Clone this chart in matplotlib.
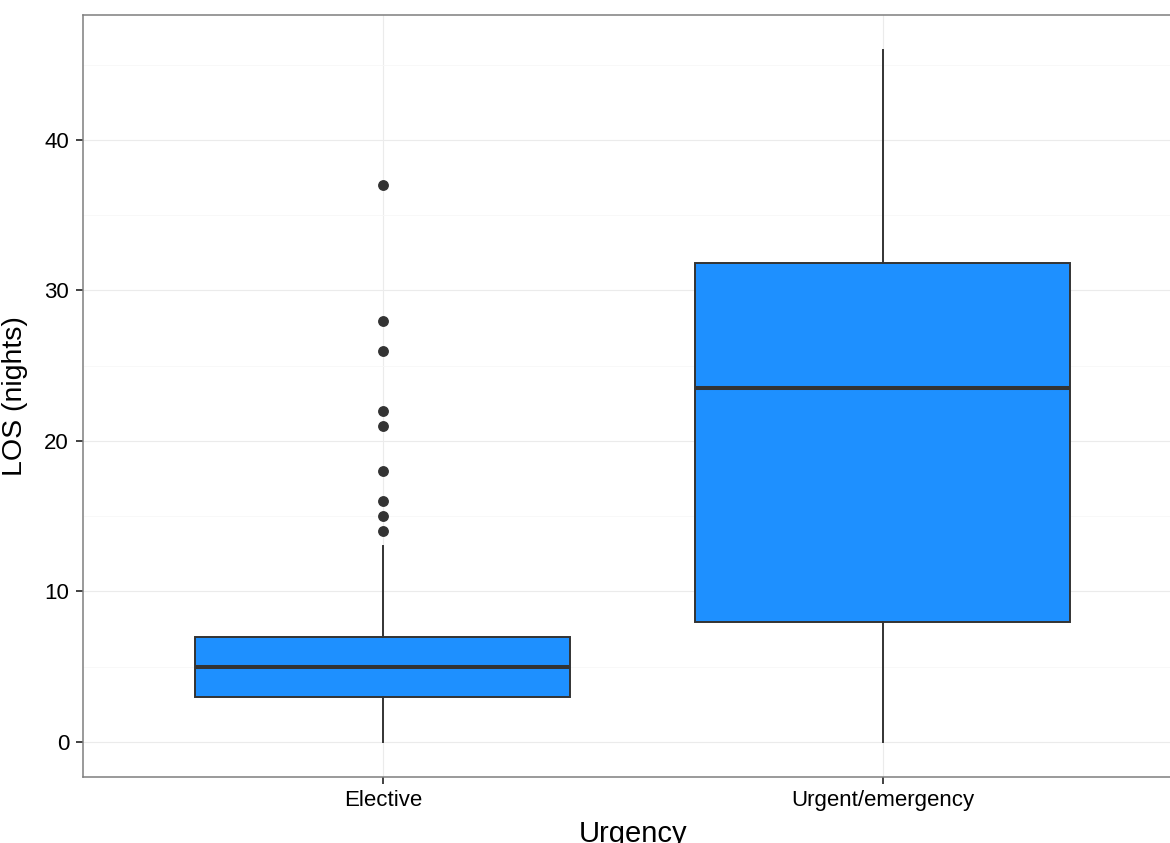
import matplotlib
matplotlib.use("Agg")
import matplotlib.pyplot as plt
from matplotlib.ticker import MultipleLocator

plt.rcParams['font.family'] = ['Liberation Sans', 'DejaVu Sans']

categories = ["Elective", "Urgent/emergency"]
q1 = [3, 8]
medians = [5, 23.5]
q3 = [7, 31.8]
whisker_low = [0, 0]
whisker_high = [13, 46]
outliers = [[14, 15, 16, 18, 21, 22, 26, 28, 37], []]
y_ticks = [0, 10, 20, 30, 40]

W, H = 1170, 843
fig = plt.figure(figsize=(W / 100, H / 100), dpi=100)
left_px, right_px, top_px, bot_px = 83, 1182.5, 15, 776.6
ax = fig.add_axes([left_px / W, 1 - bot_px / H, (right_px - left_px) / W, (bot_px - top_px) / H])

stats = []
for i, c in enumerate(categories):
    stats.append(dict(label=c, q1=q1[i], med=medians[i], q3=q3[i],
                      whislo=whisker_low[i], whishi=whisker_high[i], fliers=outliers[i]))

line_c = "#333333"
ax.bxp(stats, positions=[1, 2], widths=0.75, patch_artist=True, showcaps=False,
       boxprops=dict(facecolor="#1E90FF", edgecolor=line_c, linewidth=1.4),
       medianprops=dict(color=line_c, linewidth=2.9, solid_capstyle='butt'),
       whiskerprops=dict(color=line_c, linewidth=1.4),
       flierprops=dict(marker='o', markerfacecolor=line_c, markeredgecolor=line_c, markersize=6.8),
       zorder=3)

ax.set_xlim(0.4, 2.6)
ax.set_ylim(-2.3, 48.3)
ax.set_yticks(y_ticks)
ax.yaxis.set_minor_locator(MultipleLocator(5))
ax.set_xticks([1, 2])
ax.set_xticklabels(categories)

ax.grid(which='major', color='#EBEBEB', linewidth=0.8, zorder=0)
ax.grid(which='minor', axis='y', color='#F7F7F7', linewidth=0.6, zorder=0)
ax.set_axisbelow(True)
ax.tick_params(which='minor', length=0)
ax.tick_params(which='major', length=5, width=1.3, color='#333333', labelsize=16, labelcolor='black', pad=5)

for s in ax.spines.values():
    s.set_color('#7F7F7F')
    s.set_linewidth(1.1)

ax.set_ylabel("LOS (nights)", fontsize=20.5, labelpad=12)
ax.set_xlabel("Urgency", fontsize=21, labelpad=6)

fig.savefig("out.png", dpi=100)
